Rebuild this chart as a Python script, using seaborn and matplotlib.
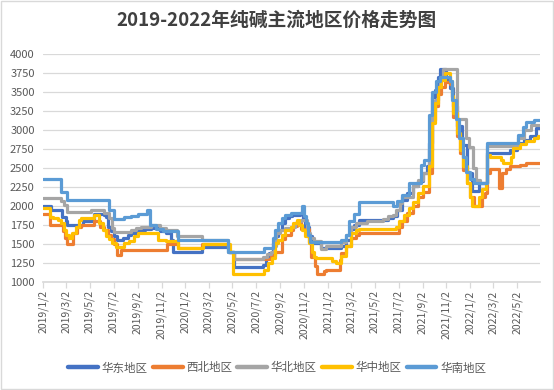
import matplotlib
matplotlib.use("Agg")
import matplotlib.pyplot as plt
import matplotlib.patches as mpatches
import pandas as pd
import seaborn as sns

title = "2019-2022年纯碱主流地区价格走势图"
regions = ["华东地区", "西北地区", "华北地区", "华中地区", "华南地区"]
colors = ["#4472C4", "#ED7D31", "#A5A5A5", "#FFC000", "#5B9BD5"]

east_dates = ["2019-01-02", "2019-01-23", "2019-02-20", "2019-03-01", "2019-03-05", "2019-04-14", "2019-05-08",
              "2019-05-13", "2019-06-08", "2019-06-13", "2019-06-17", "2019-06-25", "2019-07-04", "2019-07-12",
              "2019-07-25", "2019-08-07", "2019-08-15", "2019-08-29", "2019-09-20", "2019-10-06", "2019-10-28",
              "2019-11-14", "2019-11-27", "2019-12-02", "2020-02-14", "2020-04-23", "2020-05-05", "2020-07-20",
              "2020-07-26", "2020-08-05", "2020-08-14", "2020-08-20", "2020-08-28", "2020-09-07", "2020-09-14",
              "2020-09-23", "2020-10-02", "2020-10-23", "2020-10-29", "2020-11-05", "2020-11-14", "2020-11-23",
              "2020-12-14", "2021-02-05", "2021-02-17", "2021-03-01", "2021-03-11", "2021-03-22", "2021-06-05",
              "2021-06-17", "2021-06-29", "2021-07-12", "2021-07-25", "2021-08-08", "2021-08-21", "2021-09-04",
              "2021-09-12", "2021-09-19", "2021-09-25", "2021-10-03", "2021-10-12", "2021-10-16", "2021-11-02",
              "2021-11-11", "2021-11-20", "2021-11-29", "2021-12-11", "2021-12-24", "2022-01-07", "2022-01-25",
              "2022-02-15", "2022-04-15", "2022-05-02", "2022-05-19", "2022-06-05", "2022-06-19", "2022-06-30"]
east_values = [2000, 1950, 1860, 1800, 1750, 1800, 1820,
               1900, 1880, 1850, 1730, 1665, 1600, 1555,
               1580, 1620, 1650, 1690, 1700, 1710, 1665,
               1640, 1555, 1400, 1460, 1400, 1200, 1230,
               1315, 1380, 1510, 1600, 1690, 1775, 1840,
               1865, 1885, 1905, 1820, 1730, 1600, 1515,
               1450, 1480, 1550, 1700, 1750, 1810, 1840,
               1865, 1950, 2080, 2170, 2260, 2325, 2430,
               2520, 2830, 3440, 3530, 3700, 3800, 3660,
               3550, 3310, 3050, 2800, 2430, 2200, 2300,
               2700, 2740, 2830, 2870, 2915, 3030, 3030]

nw_dates = ["2019-01-02", "2019-01-19", "2019-02-23", "2019-02-27", "2019-03-05", "2019-03-20", "2019-03-31",
            "2019-04-09", "2019-05-14", "2019-05-29", "2019-06-08", "2019-06-17", "2019-06-25", "2019-07-04",
            "2019-07-12", "2019-07-20", "2019-11-17", "2019-12-14", "2020-02-14", "2020-04-23", "2020-05-05",
            "2020-08-08", "2020-08-20", "2020-09-05", "2020-09-14", "2020-09-28", "2020-10-05", "2020-10-14",
            "2020-10-26", "2020-11-14", "2020-11-20", "2020-11-29", "2020-12-05", "2020-12-22", "2020-12-29",
            "2021-02-01", "2021-02-05", "2021-02-17", "2021-03-01", "2021-03-14", "2021-03-22", "2021-07-04",
            "2021-07-12", "2021-07-25", "2021-08-08", "2021-08-20", "2021-09-04", "2021-09-19", "2021-09-25",
            "2021-10-03", "2021-10-12", "2021-10-20", "2021-10-29", "2021-11-11", "2021-11-15", "2021-11-20",
            "2021-11-29", "2021-12-08", "2021-12-15", "2021-12-24", "2022-01-02", "2022-01-11", "2022-02-02",
            "2022-02-08", "2022-02-15", "2022-02-23", "2022-03-17", "2022-03-25", "2022-04-05", "2022-04-14",
            "2022-05-09", "2022-05-26", "2022-06-14", "2022-06-30"]
nw_values = [1900, 1750, 1665, 1580, 1500, 1640, 1730,
             1750, 1800, 1730, 1690, 1620, 1560, 1500,
             1360, 1425, 1500, 1450, 1500, 1400, 1300,
             1350, 1400, 1560, 1620, 1690, 1740, 1800,
             1700, 1520, 1335, 1205, 1100, 1140, 1160,
             1295, 1380, 1470, 1580, 1620, 1650, 1730,
             1800, 1905, 2000, 2125, 2190, 2430, 3130,
             3310, 3480, 3570, 3635, 3600, 3440, 3175,
             2915, 2700, 2480, 2300, 2125, 2000, 2125,
             2170, 2430, 2490, 2240, 2430, 2490, 2520,
             2540, 2560, 2570, 2570]

north_dates = ["2019-01-02", "2019-02-18", "2019-02-26", "2019-03-05", "2019-05-05", "2019-06-08", "2019-06-20",
               "2019-06-29", "2019-07-04", "2019-08-15", "2019-08-29", "2019-09-11", "2019-10-06", "2019-10-29",
               "2019-11-14", "2019-12-11", "2020-02-14", "2020-04-20", "2020-05-05", "2020-07-20", "2020-07-29",
               "2020-08-08", "2020-08-17", "2020-08-23", "2020-09-02", "2020-09-14", "2020-09-28", "2020-10-10",
               "2020-10-19", "2020-10-26", "2020-11-09", "2020-11-17", "2020-11-26", "2020-12-14", "2020-12-29",
               "2021-02-05", "2021-02-17", "2021-03-01", "2021-03-14", "2021-04-11", "2021-05-22", "2021-06-04",
               "2021-06-17", "2021-06-26", "2021-07-05", "2021-07-12", "2021-08-08", "2021-08-20", "2021-09-04",
               "2021-09-19", "2021-09-25", "2021-10-03", "2021-10-12", "2021-10-16", "2021-10-23", "2021-11-30",
               "2021-12-23", "2021-12-29", "2022-01-08", "2022-01-17", "2022-01-26", "2022-02-15", "2022-05-05",
               "2022-05-20", "2022-06-08", "2022-06-30"]
north_values = [2100, 2060, 2015, 1925, 1950, 1905, 1840,
                1710, 1660, 1690, 1710, 1730, 1750, 1710,
                1690, 1600, 1550, 1400, 1300, 1330, 1370,
                1400, 1470, 1645, 1690, 1710, 1730, 1775,
                1800, 1820, 1645, 1580, 1535, 1430, 1470,
                1530, 1620, 1730, 1775, 1800, 1830, 1865,
                1885, 1950, 2040, 2125, 2260, 2345, 2430,
                2740, 3265, 3395, 3570, 3660, 3800, 3150,
                2900, 2780, 2500, 2345, 2300, 2790, 2900,
                3000, 3070, 3070]

central_dates = ["2019-01-02", "2019-01-19", "2019-01-28", "2019-02-10", "2019-02-18", "2019-02-26", "2019-03-02",
                 "2019-03-10", "2019-03-18", "2019-03-27", "2019-04-05", "2019-04-09", "2019-05-13", "2019-05-25",
                 "2019-06-04", "2019-06-12", "2019-06-20", "2019-06-29", "2019-07-08", "2019-07-29", "2019-08-10",
                 "2019-08-24", "2019-09-02", "2019-10-23", "2019-11-14", "2019-12-14", "2020-02-17", "2020-04-26",
                 "2020-05-04", "2020-07-23", "2020-08-02", "2020-08-11", "2020-08-20", "2020-08-28", "2020-09-07",
                 "2020-09-14", "2020-09-28", "2020-10-05", "2020-10-14", "2020-10-19", "2020-10-27", "2020-11-05",
                 "2020-11-14", "2020-11-23", "2020-11-26", "2020-12-02", "2021-01-12", "2021-01-22", "2021-02-05",
                 "2021-02-18", "2021-03-01", "2021-03-14", "2021-03-22", "2021-06-26", "2021-07-04", "2021-07-17",
                 "2021-07-29", "2021-08-08", "2021-08-21", "2021-09-04", "2021-09-19", "2021-09-25", "2021-10-03",
                 "2021-10-12", "2021-10-20", "2021-10-29", "2021-11-11", "2021-11-17", "2021-11-20", "2021-11-29",
                 "2021-12-07", "2021-12-15", "2021-12-24", "2022-01-02", "2022-01-07", "2022-01-24", "2022-02-02",
                 "2022-02-11", "2022-02-15", "2022-02-23", "2022-03-23", "2022-03-28", "2022-04-17", "2022-04-23",
                 "2022-05-09", "2022-05-26", "2022-06-14", "2022-06-26", "2022-06-30"]
central_values = [1975, 1860, 1840, 1820, 1775, 1690, 1620,
                  1580, 1650, 1730, 1820, 1840, 1885, 1775,
                  1690, 1600, 1560, 1510, 1465, 1510, 1535,
                  1600, 1650, 1555, 1535, 1450, 1500, 1400,
                  1100, 1160, 1250, 1315, 1510, 1555, 1620,
                  1690, 1730, 1775, 1810, 1750, 1690, 1600,
                  1510, 1400, 1335, 1315, 1270, 1250, 1340,
                  1470, 1645, 1690, 1700, 1730, 1800, 1885,
                  1970, 2050, 2170, 2260, 2520, 3090, 3350,
                  3570, 3660, 3745, 3650, 3450, 3220, 2960,
                  2740, 2520, 2300, 2125, 2000, 2120, 2230,
                  2300, 2675, 2650, 2610, 2570, 2650, 2760,
                  2810, 2850, 2890, 2915, 2915]

south_dates = ["2019-01-02", "2019-02-18", "2019-03-05", "2019-06-20", "2019-07-04", "2019-07-29", "2019-08-17",
               "2019-09-02", "2019-09-27", "2019-10-04", "2019-10-20", "2019-11-05", "2019-12-14", "2020-04-20",
               "2020-07-23", "2020-08-14", "2020-08-20", "2020-08-28", "2020-09-07", "2020-09-14", "2020-09-28",
               "2020-10-27", "2020-11-01", "2020-11-06", "2020-11-12", "2020-11-18", "2021-02-05", "2021-02-17",
               "2021-02-26", "2021-03-11", "2021-03-23", "2021-06-17", "2021-06-29", "2021-07-12", "2021-07-29",
               "2021-08-29", "2021-09-05", "2021-09-17", "2021-09-26", "2021-10-05", "2021-10-17", "2021-11-11",
               "2021-11-17", "2021-11-26", "2021-12-05", "2021-12-14", "2021-12-23", "2022-01-02", "2022-01-11",
               "2022-02-14", "2022-05-05", "2022-05-17", "2022-05-26", "2022-06-14", "2022-06-30"]
south_values = [2350, 2180, 2075, 1950, 1825, 1850, 1875,
                1900, 1950, 1750, 1700, 1665, 1550, 1400,
                1450, 1580, 1690, 1775, 1840, 1885, 1905,
                2000, 1870, 1775, 1620, 1525, 1555, 1620,
                1800, 1900, 2050, 2000, 2060, 2150, 2300,
                2540, 2600, 3200, 3500, 3640, 3700, 3640,
                3400, 3150, 2900, 2650, 2450, 2350, 2300,
                2830, 2940, 3040, 3100, 3130, 3130]

tick_dates = ["2019-01-02", "2019-03-02", "2019-05-02", "2019-07-02", "2019-09-02", "2019-11-02",
              "2020-01-02", "2020-03-02", "2020-05-02", "2020-07-02", "2020-09-02", "2020-11-02",
              "2021-01-02", "2021-03-02", "2021-05-02", "2021-07-02", "2021-09-02", "2021-11-02",
              "2022-01-02", "2022-03-02", "2022-05-02"]
tick_labels = ["2019/1/2", "2019/3/2", "2019/5/2", "2019/7/2", "2019/9/2", "2019/11/2",
               "2020/1/2", "2020/3/2", "2020/5/2", "2020/7/2", "2020/9/2", "2020/11/2",
               "2021/1/2", "2021/3/2", "2021/5/2", "2021/7/2", "2021/9/2", "2021/11/2",
               "2022/1/2", "2022/3/2", "2022/5/2"]
y_ticks = [1000, 1250, 1500, 1750, 2000, 2250, 2500, 2750, 3000, 3250, 3500, 3750, 4000]

series = [(east_dates, east_values), (nw_dates, nw_values), (north_dates, north_values),
          (central_dates, central_values), (south_dates, south_values)]
frames = []
for name, (d, v) in zip(regions, series):
    frames.append(pd.DataFrame({"date": pd.to_datetime(d), "price": v, "region": name}))
df = pd.concat(frames, ignore_index=True)

sns.set_theme(style="white")
plt.rcParams["font.family"] = ["Noto Sans CJK SC", "DejaVu Sans"]

fig = plt.figure(figsize=(5.54, 3.90), dpi=100)
ax = fig.add_axes([43 / 554, 1 - 282 / 390, (540 - 43) / 554, (282 - 54) / 390])

sns.lineplot(data=df, x="date", y="price", hue="region", hue_order=regions,
             palette=colors, drawstyle="steps-post", linewidth=2.3,
             estimator=None, ax=ax, legend=True)

ax.set_xlim(pd.Timestamp("2019-01-02"), pd.Timestamp("2022-06-30"))
ax.set_ylim(1000, 4000)
ax.set_yticks(y_ticks)
ax.set_yticklabels([str(t) for t in y_ticks], fontsize=8, color="#595959")
ax.set_xticks(pd.to_datetime(tick_dates))
ax.set_xticklabels(tick_labels, rotation=90, fontsize=7.5, color="#595959")
ax.set_xlabel("")
ax.set_ylabel("")
ax.grid(axis="y", color="#D9D9D9", linewidth=0.9)
ax.set_axisbelow(True)
for s in ["top", "right", "left"]:
    ax.spines[s].set_visible(False)
ax.spines["bottom"].set_color("#D9D9D9")
ax.tick_params(axis="x", length=4, color="#D9D9D9", width=0.9, pad=2, bottom=True)
ax.tick_params(axis="y", length=0, pad=6)

handles, labels = ax.get_legend_handles_labels()
ax.legend_.remove()
leg = fig.legend(handles, labels, loc="center", bbox_to_anchor=(0.5, 1 - 368 / 390), ncol=5,
                 frameon=False, fontsize=8.3, handlelength=2.6, columnspacing=0.45, handletextpad=0.3)
for h in leg.legend_handles:
    h.set_linewidth(3.2)
for t in leg.get_texts():
    t.set_color("#595959")

fig.text(0.5, 1 - 20 / 390, title, ha="center", va="center", fontsize=13.5, fontweight="bold", color="#404040")
fig.patches.append(mpatches.Rectangle((0.001, 0.002), 0.997, 0.995, transform=fig.transFigure,
                                      fill=False, edgecolor="#D9D9D9", linewidth=1))

fig.savefig("out.png", dpi=100)
